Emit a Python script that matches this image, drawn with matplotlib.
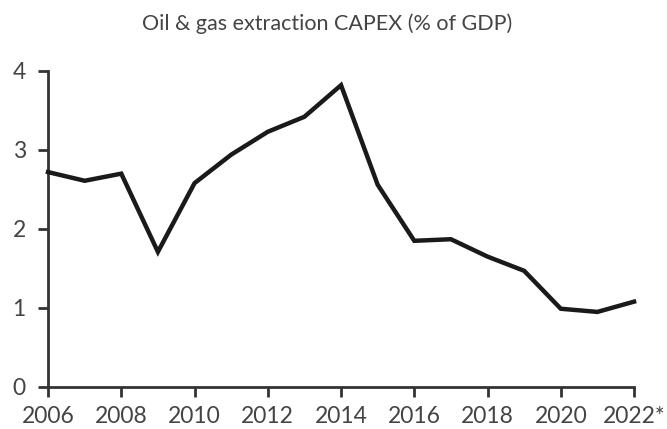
import matplotlib
matplotlib.use("Agg")
import matplotlib.pyplot as plt

years = list(range(2006, 2023))
capex = [2.72, 2.61, 2.70, 1.71, 2.58, 2.94, 3.23, 3.42, 3.82, 2.56,
         1.85, 1.87, 1.65, 1.47, 0.99, 0.95, 1.08]
x_ticks = list(range(2006, 2023, 2))
x_labels = [str(y) for y in x_ticks[:-1]] + ["2022*"]
y_ticks = [0, 1, 2, 3, 4]

plt.rcParams['font.family'] = ['Lato', 'DejaVu Sans']

fig = plt.figure(figsize=(6.67, 4.29), dpi=100)
ax = fig.add_axes([0.072, 0.098, 0.8786, 0.7366])

ax.plot(years, capex, color='#1a1a1a', linewidth=3.2, solid_joinstyle='miter', clip_on=False, zorder=3)

ax.set_xlim(2006, 2022)
ax.set_ylim(0, 4)
ax.set_xticks(x_ticks)
ax.set_xticklabels(x_labels)
ax.set_yticks(y_ticks)

for side in ['top', 'right']:
    ax.spines[side].set_visible(False)
for side in ['left', 'bottom']:
    ax.spines[side].set_color('#333333')
    ax.spines[side].set_linewidth(2)

ax.tick_params(axis='both', colors='#333333', width=2, length=7, labelsize=16.5, labelcolor='#444444')
ax.tick_params(axis='x', pad=7)
ax.tick_params(axis='y', pad=9)

fig.text(0.49, 0.945, 'Oil & gas extraction CAPEX (% of GDP)', ha='center', va='center',
         fontsize=15.5, color='#444444')

fig.savefig('out.png', dpi=100)
